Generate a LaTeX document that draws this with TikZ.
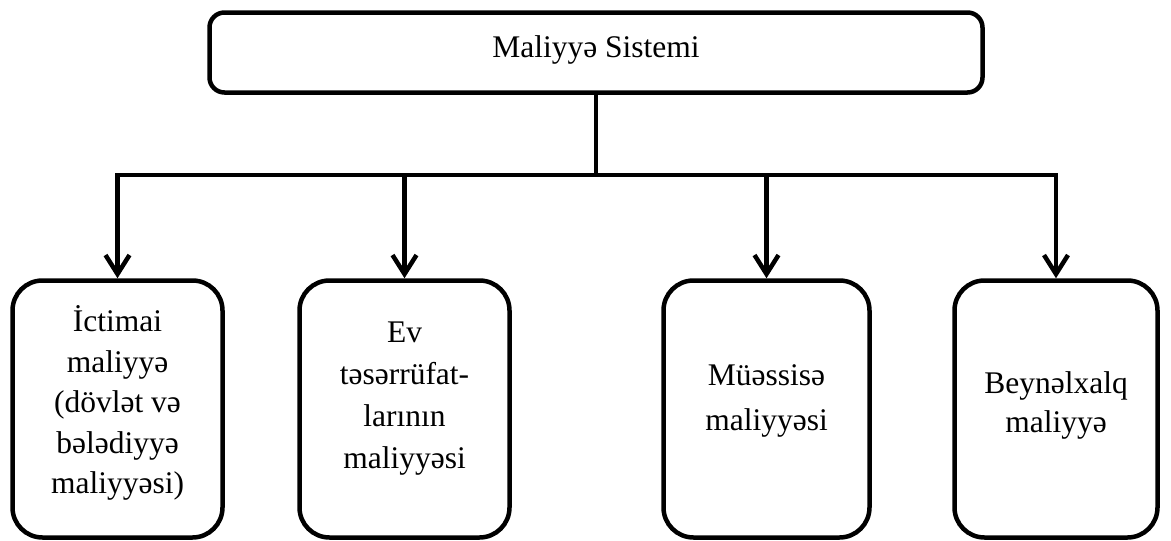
\documentclass[tikz,border=0pt]{standalone}
\usepackage{fontspec}
\setmainfont{Liberation Serif}
\usetikzlibrary{arrows.meta}
\begin{document}
\begin{tikzpicture}[x=1pt,y=-1pt,
  txt/.style={font=\fontsize{31.5}{41}\selectfont, align=center, inner sep=0pt},
  box/.style={draw, line width=4.5pt, rounded corners=30pt, minimum width=210pt,
    minimum height=257pt, inner sep=0pt},
  topbox/.style={draw, line width=4.5pt, rounded corners=15pt, minimum width=773pt,
    minimum height=80pt, inner sep=0pt},
  conn/.style={line width=4.5pt},
  arr/.style={conn, -{Straight Barb[length=19pt,width=24pt]}}]
\useasboundingbox (0,0) rectangle (1171,541);
\node[topbox] (top) at (596,52.5) {};
\node[txt] (ttop) at (596,49.7) {Maliyyə Sistemi};
\node[box] (b1) at (117.5,409) {};
\node[box] (b2) at (404.5,409) {};
\node[box, minimum width=206pt] (b3) at (766.5,409) {};
\node[box, minimum width=203pt] (b4) at (1056,409) {};
\node[txt, font=\fontsize{31.5}{40.5}\selectfont] (t1) at (117.5,403) {İctimai\\maliyyə\\(dövlət və\\bələdiyyə\\maliyyəsi)};
\node[txt, font=\fontsize{31.5}{42}\selectfont] (t2) at (404.5,399) {Ev\\təsərrüfat-\\larının\\maliyyəsi};
\node[txt, font=\fontsize{31.5}{45}\selectfont] (t3) at (766.5,401) {Müəssisə\\maliyyəsi};
\node[txt, font=\fontsize{31.5}{39}\selectfont] (t4) at (1056,405) {Beynəlxalq\\maliyyə};
\coordinate (bus) at (595,175);
\draw[conn] (top.south) -- (top.south |- bus);
\draw[arr] (top.south |- bus) -| (b1.north);
\draw[arr] (top.south |- bus) -| (b4.north);
\draw[arr] (b2.north |- bus) -- (b2.north);
\draw[arr] (b3.north |- bus) -- (b3.north);
\end{tikzpicture}
\end{document}
